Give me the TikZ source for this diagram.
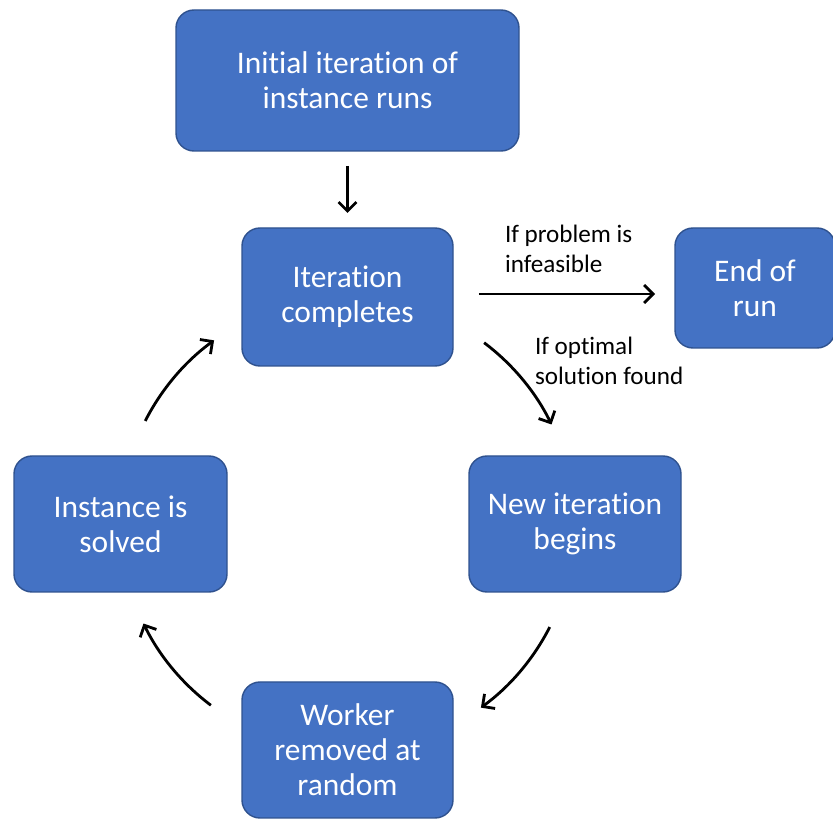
\documentclass[tikz,border=0pt]{standalone}
\usepackage{fontspec}
\setmainfont{Carlito}[RawFeature=-liga]
\usetikzlibrary{arrows.meta,positioning}
\definecolor{boxfill}{HTML}{4472C4}
\definecolor{boxline}{HTML}{2F528F}

\begin{document}
\begin{tikzpicture}[x=0.02cm,y=0.02cm,every node/.style={outer sep=0pt},
 stage/.style={draw=boxline,line width=0.8pt,fill=boxfill,rounded corners=0.36cm,
 text=white,align=center,font=\fontsize{17.9}{19.9}\selectfont,inner sep=0pt},
 flow/.style={line width=1.6pt,-{Straight Barb[length=0.18cm,width=0.36cm]}},
 note/.style={align=left,anchor=west,inner sep=0pt,font=\fontsize{14.3}{17}\selectfont}]

 \useasboundingbox (0,0) rectangle (833,819);

 \node[stage,minimum width=343*0.02cm,minimum height=141*0.02cm] (init) at (347.5,738.5) {Initial iteration of\\instance runs};
 \node[stage,minimum width=211*0.02cm,minimum height=138*0.02cm] (iter) at (347.5,522) {Iteration\\completes};
 \node[stage,minimum width=160*0.02cm,minimum height=120*0.02cm] (endrun) at (755,531) {End of\\run};
 \node[stage,minimum width=212*0.02cm,minimum height=136*0.02cm] (newit) at (575,295) {New iteration\\begins};
 \node[stage,minimum width=213*0.02cm,minimum height=136*0.02cm] (solved) at (120.5,295) {Instance is\\solved};
 \node[stage,minimum width=211*0.02cm,minimum height=136*0.02cm] (worker) at (347.5,69) {Worker\\removed at\\random};

 \coordinate (hub) at (iter |- newit);

 \draw[flow,shorten <=0.3cm,shorten >=0.3cm] (init) -- (iter);
 \draw[flow,shorten <=0.52cm,shorten >=0.4cm] ([yshift=0.06cm]iter.east) -- ([yshift=0.06cm]iter.east -| endrun.west);

 % the cycle
 \foreach \a in {53,-27,233,153}
  \draw[flow] ([shift={(\a:227)}]hub) arc[start angle=\a,delta angle=-27,radius=227*0.02cm];

 \node[note] (infeas) at (505,570) {If problem is\\infeasible};
 \node[note] (optim) at (535,458) {If optimal\\solution found};

\end{tikzpicture}
\end{document}
